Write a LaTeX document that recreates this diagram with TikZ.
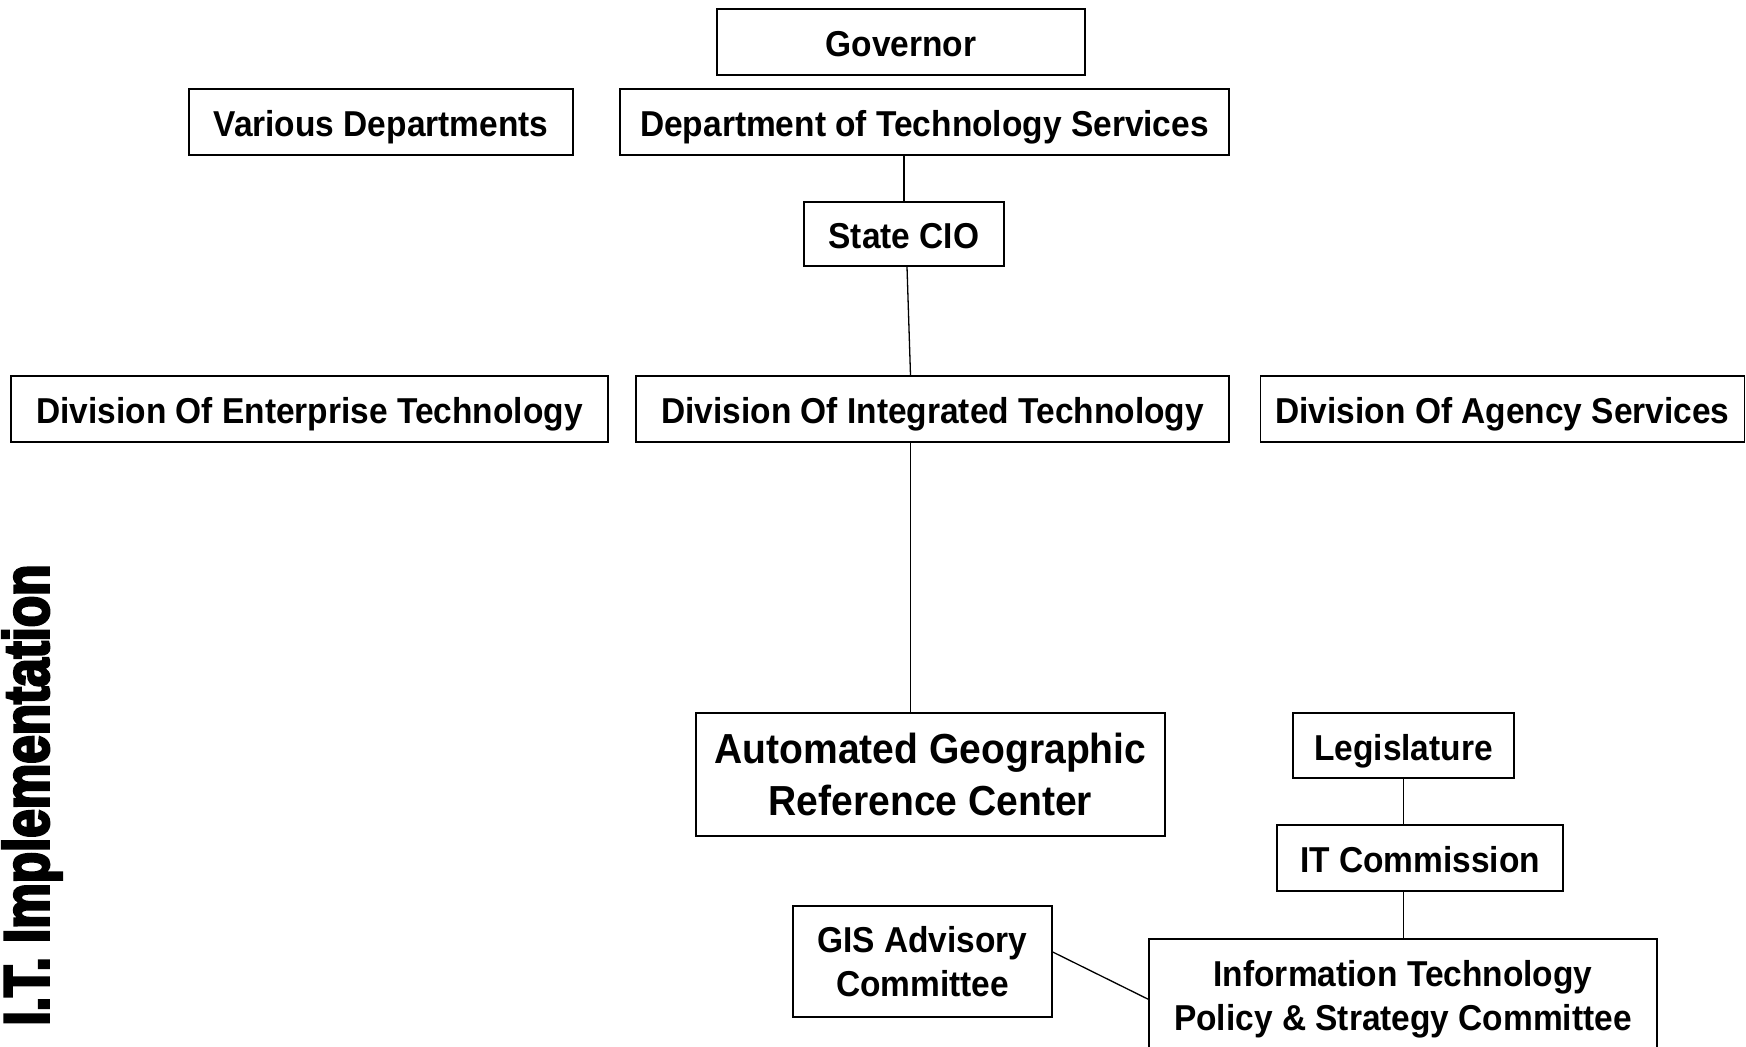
\documentclass[tikz,border=0pt]{standalone}
\usepackage{fontspec}
\newfontfamily\boxfont[FakeStretch=0.93]{Liberation Sans}
\newfontfamily\titlefont[FakeStretch=0.8,FakeBold=4]{Liberation Sans}
\begin{document}
\begin{tikzpicture}[x=1pt,y=-1pt,
  box/.style={draw,line width=1.5pt,inner sep=0pt,align=center,
    font=\boxfont\bfseries\fontsize{36}{44}\selectfont},
  one/.style={text height=29pt,text depth=0pt},
  conn/.style={line width=1.3pt}]
\useasboundingbox (0,0) rectangle (1746,1047);
\node[box,one,minimum width=368,minimum height=66] (gov) at (901,42) {Governor};
\node[box,one,minimum width=609,minimum height=66] (dts) at (924.5,122) {Department of Technology Services};
\node[box,one,minimum width=384,minimum height=66] (var) at (381,122) {Various Departments};
\node[box,one,minimum width=200,minimum height=64] (cio) at (904,234) {State CIO};
\node[box,one,minimum width=597,minimum height=66] (det) at (309.5,409) {Division Of Enterprise Technology};
\node[box,one,minimum width=593,minimum height=66] (dit) at (932.5,409) {Division Of Integrated Technology};
\node[box,one,minimum width=484,minimum height=66] (das) at (1502.5,409) {Division Of Agency Services};
\node[box,minimum width=469,minimum height=123,font=\boxfont\bfseries\fontsize{42}{52}\selectfont] (agrc) at (930.5,774.5) {Automated Geographic\\Reference Center};
\node[box,one,minimum width=221,minimum height=65] (leg) at (1403.5,745.5) {Legislature};
\node[box,one,minimum width=286,minimum height=66] (itc) at (1420,858) {IT Commission};
\node[box,minimum width=259,minimum height=111] (gis) at (922.5,961.5) {GIS Advisory\\Committee};
\node[box,minimum width=508,minimum height=112,text depth=0pt] (itp) at (1403,995) {Information Technology\\Policy \& Strategy Committee};
\node[font=\titlefont\bfseries\fontsize{64}{64}\selectfont,rotate=90,inner sep=0pt,anchor=north] (title) at (2,795) {I.T. Implementation};
\draw[conn] (cio.north) -- (cio.north |- dts.south);
\draw[conn] ([xshift=3pt]cio.south) -- ([xshift=-22pt]dit.north);
\draw[conn] ([xshift=-22pt]dit.south) -- ([xshift=-20pt]agrc.north);
\draw[conn] (leg.south) -- (leg.south |- itc.north);
\draw[conn] (itc.south -| leg.south) -- (itp.north -| leg.south);
\draw[conn] ([yshift=9.5pt]gis.east) -- ([yshift=-61pt]itp.north west);
\end{tikzpicture}
\end{document}
